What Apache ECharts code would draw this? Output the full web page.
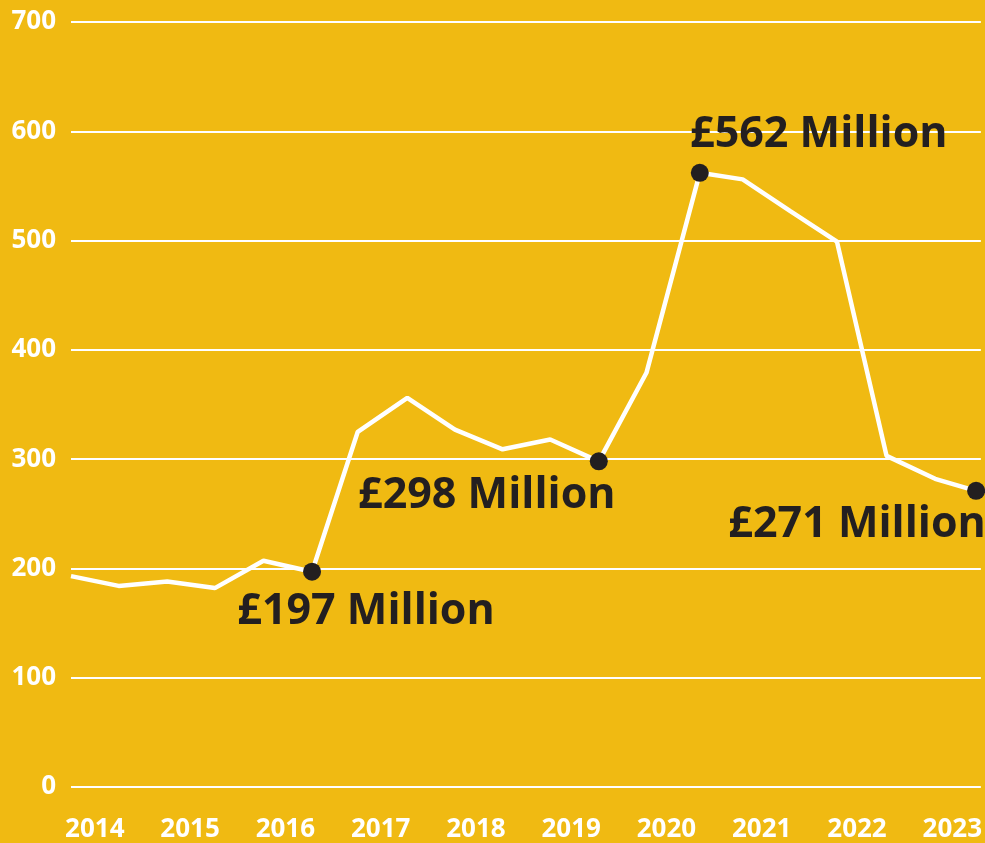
<!DOCTYPE html>
<html>
<head>
<meta charset="utf-8">
<title>Chart</title>
<script src="https://cdn.jsdelivr.net/npm/echarts@6/dist/echarts.min.js"></script>
<style>
  html, body { margin: 0; padding: 0; background: #f0ba12; }
  #chart { width: 985px; height: 843px; }
</style>
</head>
<body>
<div id="chart"></div>
<script>
// roughly half-yearly points (as decimal years)
const periods = [2013.75, 2014.25, 2014.76, 2015.26, 2015.77, 2016.28, 2016.76, 2017.28, 2017.78, 2018.28,
  2018.78, 2019.29, 2019.79, 2020.35, 2020.80, 2021.30, 2021.79, 2022.31, 2022.82, 2023.25];
const values = [193, 184, 188, 182, 207, 197, 325, 356, 327, 309, 318, 298, 379, 562, 556, 527, 499, 303, 282, 271];
const yearLabels = [2014, 2015, 2016, 2017, 2018, 2019, 2020, 2021, 2022, 2023];
const yTicks = [0, 100, 200, 300, 400, 500, 600, 700];
// points that get a dot and a callout
const highlightIdx = [5, 11, 13, 19];
const labelOffsets = [[54, 40], [-112, 34], [119, -38], [-119, 34]];

const chart = echarts.init(document.getElementById("chart"));

const lineData = periods.map((p, i) => [p, values[i]]);
const dotData = highlightIdx.map((idx, k) => ({
  value: [periods[idx], values[idx]],
  label: {
    show: true,
    position: "inside",
    offset: labelOffsets[k],
    formatter: "£" + values[idx] + " Million",
  },
}));

const option = {
  backgroundColor: "#f0ba12",
  animation: false,
  grid: {
    left: 71,
    right: 4,
    top: 22,
    bottom: 55,
    containLabel: false,
  },
  xAxis: {
    type: "value",
    min: 2013.75,
    max: 2023.3,
    axisLine: { show: false },
    axisTick: { show: false },
    splitLine: { show: false },
    axisLabel: {
      customValues: yearLabels,
      formatter: (v) => String(v),
      color: "#ffffff",
      fontFamily: "Open Sans",
      fontWeight: "bold",
      fontSize: 26,
      margin: 30,
    },
  },
  yAxis: {
    type: "value",
    min: yTicks[0],
    max: yTicks[yTicks.length - 1],
    interval: 100,
    axisLine: { show: false },
    axisTick: { show: false },
    splitLine: {
      lineStyle: { color: "#ffffff", width: 2 },
    },
    axisLabel: {
      color: "#ffffff",
      fontFamily: "Open Sans",
      fontWeight: "bold",
      fontSize: 26,
      margin: 15,
    },
  },
  series: [
    {
      type: "line",
      data: lineData,
      symbol: "none",
      lineStyle: { color: "#ffffff", width: 4.5 },
      z: 2,
    },
    {
      type: "scatter",
      data: dotData,
      symbol: "circle",
      symbolSize: 18,
      itemStyle: { color: "#231f20", opacity: 1 },
      label: {
        color: "#231f20",
        fontFamily: "Open Sans",
        fontWeight: "bold",
        fontSize: 43,
      },
      z: 3,
    },
  ],
};

chart.setOption(option);
</script>
</body>
</html>
